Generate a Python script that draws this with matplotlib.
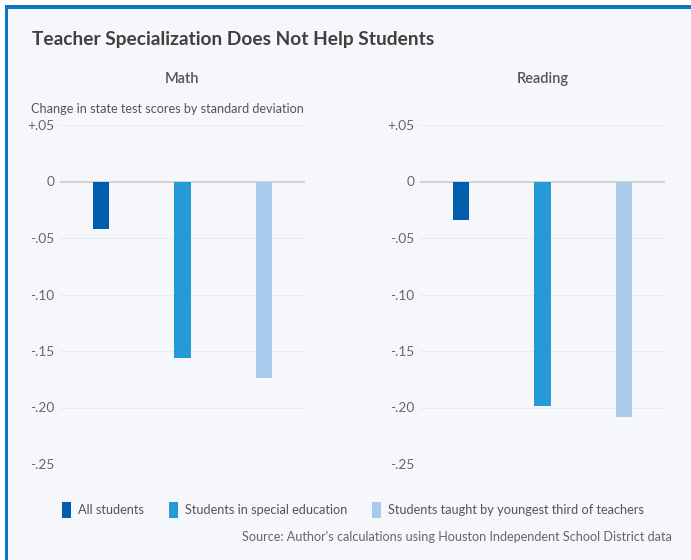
import numpy as np
import matplotlib.pyplot as plt
from matplotlib.patches import Patch, Rectangle

# ---- data ----
groups = ['All students', 'Students in special education',
          'Students taught by youngest third of teachers']
colors = ['#005eac', '#249bd7', '#a9caea']
math_vals = [-0.042, -0.156, -0.174]
reading_vals = [-0.034, -0.199, -0.208]
yticks = [0.05, 0, -0.05, -0.10, -0.15, -0.20, -0.25]
ytick_labels = ['+.05', '0', '-.05', '-.10', '-.15', '-.20', '-.25']

plt.rcParams['font.family'] = ['Lato', 'DejaVu Sans']

W, H = 691, 560
fig = plt.figure(figsize=(W / 100, H / 100), dpi=100)
fig.patch.set_facecolor('white')

# panel background + blue frame
bg = '#f5f7fa'
fig.patches.append(Rectangle((5 / W, 0), 1, 1 - 5 / H, transform=fig.transFigure,
                             facecolor=bg, edgecolor='none', zorder=-10))
fig.patches.append(Rectangle((5 / W, 1 - 9 / H), 1, 4 / H, transform=fig.transFigure,
                             facecolor='#0a78c9', edgecolor='none', zorder=-9))
fig.patches.append(Rectangle((5 / W, 0), 3 / W, 1 - 5 / H, transform=fig.transFigure,
                             facecolor='#0a78c9', edgecolor='none', zorder=-9))

bottom = 1 - 464 / H
top = 1 - 125 / H
panels = [('Math', math_vals, 60), ('Reading', reading_vals, 420)]
x = np.arange(len(groups))

for name, vals, left in panels:
    ax = fig.add_axes([left / W, bottom, 245 / W, top - bottom])
    ax.set_facecolor('none')
    ax.bar(x, vals, width=0.2, color=colors, zorder=3)
    ax.set_xlim(-0.5, 2.5)
    ax.set_ylim(-0.25, 0.05)
    ax.set_yticks(yticks)
    ax.set_yticklabels(ytick_labels)
    ax.set_xticks([])
    for s in ax.spines.values():
        s.set_visible(False)
    ax.tick_params(axis='y', length=0, pad=4, labelsize=9.8, labelcolor='#666666')
    for t in yticks:
        ax.axhline(t, color='#c9cdd2' if t == 0 else '#e9ecef',
                   linewidth=1.2 if t == 0 else 0.8, zorder=1)
    cx = (left + 122.5) / W
    fig.text(cx, 1 - 79 / H, name, ha='center', va='center',
             fontsize=10.5, fontweight='semibold', color='#555555')

fig.text(32 / W, 1 - 40 / H, 'Teacher Specialization Does Not Help Students',
         ha='left', va='center', fontsize=13.8, fontweight='bold', color='#404040')
fig.text(31 / W, 1 - 109 / H, 'Change in state test scores by standard deviation',
         ha='left', va='center', fontsize=9.1, color='#555555')

handles = [Patch(facecolor=c, edgecolor='none') for c in colors]
fig.legend(handles, groups, loc='center', bbox_to_anchor=(353 / W, 1 - 510 / H),
           ncol=3, frameon=False, fontsize=9.2, handlelength=0.75, handleheight=1.6,
           handletextpad=0.55, columnspacing=1.9, labelcolor='#555555')

fig.text(672 / W, 1 - 537 / H,
         "Source: Author's calculations using Houston Independent School District data",
         ha='right', va='center', fontsize=9.1, color='#666666')

fig.savefig('out.png', dpi=100, facecolor=fig.get_facecolor())
